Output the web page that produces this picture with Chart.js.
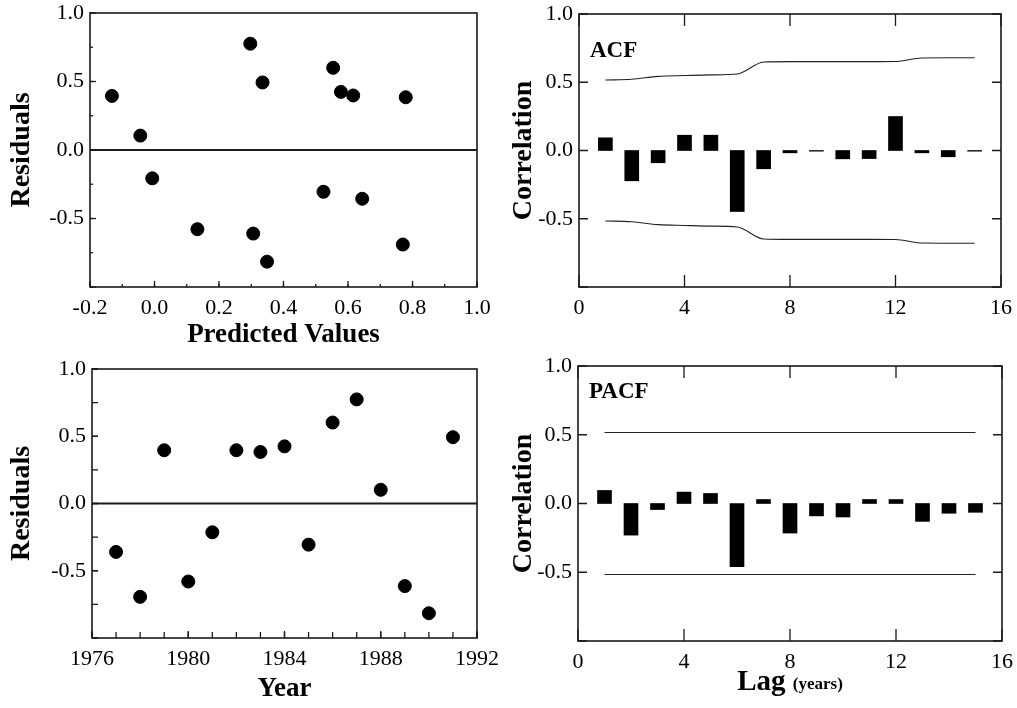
<!DOCTYPE html>
<html>
<head>
<meta charset="utf-8">
<script src="https://cdn.jsdelivr.net/npm/chart.js@4.4.1/dist/chart.umd.min.js"></script>
<style>
  html, body { margin: 0; padding: 0; background: #fff; }
  #wrap { position: relative; width: 1017px; height: 708px; }
  #wrap canvas { position: absolute; }
</style>
</head>
<body>
<div id="wrap">
  <canvas id="cTL" style="left:0;top:0"></canvas>
  <canvas id="cTR" style="left:508px;top:0"></canvas>
  <canvas id="cBL" style="left:0;top:354px"></canvas>
  <canvas id="cBR" style="left:508px;top:354px"></canvas>
</div>
<script>
// residuals vs predicted values (top left)
const predicted = [-0.132, -0.044, -0.007, 0.133, 0.297, 0.306, 0.335, 0.349, 0.524, 0.554, 0.578, 0.616, 0.644, 0.770, 0.779];
const residualsByPred = [0.395, 0.105, -0.207, -0.578, 0.776, -0.610, 0.493, -0.815, -0.305, 0.600, 0.424, 0.398, -0.356, -0.690, 0.385];

// residuals vs year (bottom left)
const years = [1977, 1978, 1979, 1980, 1981, 1982, 1983, 1984, 1985, 1986, 1987, 1988, 1989, 1990, 1991];
const residualsByYear = [-0.36, -0.694, 0.396, -0.58, -0.214, 0.396, 0.383, 0.425, -0.306, 0.602, 0.774, 0.102, -0.614, -0.816, 0.493];

// correlograms
const lags = [1, 2, 3, 4, 5, 6, 7, 8, 9, 10, 11, 12, 13, 14, 15];
const acf = [0.093, -0.222, -0.09, 0.112, 0.112, -0.447, -0.134, -0.017, -0.005, -0.061, -0.059, 0.249, -0.017, -0.046, -0.005];
const acfUpper = [0.516, 0.522, 0.543, 0.549, 0.554, 0.560, 0.648, 0.651, 0.651, 0.651, 0.651, 0.652, 0.678, 0.679, 0.679];
const acfLower = [-0.516, -0.522, -0.543, -0.549, -0.554, -0.560, -0.648, -0.651, -0.651, -0.651, -0.651, -0.652, -0.678, -0.679, -0.679];
const pacf = [0.095, -0.23, -0.044, 0.083, 0.073, -0.46, 0.029, -0.215, -0.09, -0.098, 0.029, 0.029, -0.13, -0.071, -0.064];
const pacfUpper = [0.516, 0.516, 0.516, 0.516, 0.516, 0.516, 0.516, 0.516, 0.516, 0.516, 0.516, 0.516, 0.516, 0.516, 0.516];
const pacfLower = [-0.516, -0.516, -0.516, -0.516, -0.516, -0.516, -0.516, -0.516, -0.516, -0.516, -0.516, -0.516, -0.516, -0.516, -0.516];

const SERIF = '"Liberation Serif", "Times New Roman", serif';
const tickFont = { family: SERIF, size: 22, lineHeight: 1 };

function oneDecimal(v) {
    if (Math.abs(v + 1) < 1e-9) return '';
    if (Math.abs(v) < 1e-9) return '0.0';
    return v.toFixed(1);
}

function pairs(xs, ys) {
    return xs.map((x, i) => ({ x, y: ys[i] }));
}

// frame, inward tick marks, zero line and panel labels
const framePlugin = {
    id: 'frame',
    afterDatasetsDraw(chart, args, opts) {
        const ctx = chart.ctx;
        const a = chart.chartArea;
        const xs = chart.scales.x, ys = chart.scales.y;
        ctx.save();
        ctx.strokeStyle = '#1a1a1a';

        if (opts.zeroLine) {
            const y0 = ys.getPixelForValue(0);
            ctx.lineWidth = 1.8;
            ctx.beginPath();
            ctx.moveTo(a.left, y0);
            ctx.lineTo(a.right, y0);
            ctx.stroke();
        }

        ctx.lineWidth = 1.6;
        ctx.strokeRect(a.left, a.top, a.right - a.left, a.bottom - a.top);

        ctx.lineWidth = 1.3;
        const drawX = (vals, len) => {
            vals.forEach(v => {
                const px = xs.getPixelForValue(v);
                ctx.beginPath();
                if (opts.bottom) { ctx.moveTo(px, a.bottom); ctx.lineTo(px, a.bottom - len); }
                if (opts.top) { ctx.moveTo(px, a.top); ctx.lineTo(px, a.top + len); }
                ctx.stroke();
            });
        };
        const drawY = (vals, len) => {
            vals.forEach(v => {
                const py = ys.getPixelForValue(v);
                ctx.beginPath();
                if (opts.left) { ctx.moveTo(a.left, py); ctx.lineTo(a.left + len, py); }
                if (opts.right) { ctx.moveTo(a.right, py); ctx.lineTo(a.right - len, py); }
                ctx.stroke();
            });
        };
        const steps = (min, max, step) => {
            const out = [];
            for (let v = min; v <= max + 1e-9; v += step) out.push(v);
            return out;
        };
        drawX(xs.ticks.map(t => t.value), opts.xMajor);
        drawY(ys.ticks.map(t => t.value), opts.yMajor);
        if (opts.xMinor) drawX(steps(xs.min, xs.max, opts.xMinor), opts.minorLen);
        if (opts.yMinor) drawY(steps(ys.min, ys.max, opts.yMinor), opts.minorLen);

        ctx.fillStyle = '#000';
        if (opts.label) {
            ctx.font = 'bold 23px ' + SERIF;
            ctx.textAlign = 'left';
            ctx.textBaseline = 'alphabetic';
            ctx.fillText(opts.label, a.left + 11, a.top + opts.labelDrop);
        }
        if (opts.lagTitle) {
            const big = 'bold 29px ' + SERIF, small = 'bold 17px ' + SERIF;
            ctx.font = big;
            const w1 = ctx.measureText('Lag ').width;
            ctx.font = small;
            const w2 = ctx.measureText('(years)').width;
            let x = (a.left + a.right) / 2 - (w1 + w2) / 2;
            const base = chart.height - 18;
            ctx.textAlign = 'left';
            ctx.textBaseline = 'alphabetic';
            ctx.font = big;
            ctx.fillText('Lag', x, base);
            ctx.font = small;
            ctx.fillText('(years)', x + w1, base - 1);
        }
        ctx.restore();
    }
};

function axisY(width, title, titlePad) {
    return {
        type: 'linear', min: -1, max: 1,
        grid: { display: false, drawTicks: false },
        border: { display: false },
        ticks: { stepSize: 0.5, font: tickFont, color: '#000', padding: 6, callback: oneDecimal },
        title: { display: true, text: title, color: '#000', font: { family: SERIF, size: 28, weight: 'bold', lineHeight: 1.1 }, padding: { top: titlePad, bottom: 0 } },
        afterFit(s) { s.width = width; s.paddingTop = 0; s.paddingBottom = 0; }
    };
}

function axisX(min, max, step, height, title, fmt) {
    return {
        type: 'linear', min, max, offset: false,
        grid: { display: false, drawTicks: false, offset: false },
        border: { display: false },
        ticks: { stepSize: step, font: tickFont, color: '#000', padding: 10, callback: fmt, maxRotation: 0, autoSkip: false },
        title: { display: !!title, text: title || '', color: '#000', font: { family: SERIF, size: 27, weight: 'bold', lineHeight: 1.2 }, padding: { top: 0, bottom: 3 } },
        afterFit(s) { s.height = height; s.paddingLeft = 0; s.paddingRight = 0; }
    };
}

function baseOptions(padding, scales, frame) {
    return {
        responsive: false,
        animation: false,
        layout: { padding },
        plugins: { legend: { display: false }, tooltip: { enabled: false }, frame },
        scales
    };
}

function scatterChart(id, xs, ys, xAxis, yAxis, padding, frame) {
    const el = document.getElementById(id);
    el.width = 508; el.height = 354;
    return new Chart(el, {
        type: 'scatter',
        data: { datasets: [{ data: pairs(xs, ys), backgroundColor: '#000', borderColor: '#000', pointRadius: 6.5, pointHoverRadius: 6.5 }] },
        options: baseOptions(padding, { x: xAxis, y: yAxis }, frame),
        plugins: [framePlugin]
    });
}

function corrChart(id, values, upper, lower, padding, frame, yWidth) {
    const el = document.getElementById(id);
    el.width = 509; el.height = 354;
    const band = data => ({
        type: 'line', data: pairs(lags, data), borderColor: '#222', borderWidth: 1.1,
        pointRadius: 0, fill: false, cubicInterpolationMode: 'monotone'
    });
    return new Chart(el, {
        type: 'bar',
        data: {
            datasets: [
                { type: 'bar', data: pairs(lags, values), backgroundColor: '#000', barThickness: 14 },
                band(upper),
                band(lower)
            ]
        },
        options: baseOptions(padding, {
            x: axisX(0, 16, 4, 67, '', v => String(v)),
            y: axisY(yWidth, 'Correlation', 0)
        }, frame),
        plugins: [framePlugin]
    });
}

scatterChart('cTL', predicted, residualsByPred,
    axisX(-0.2, 1.0, 0.2, 67, 'Predicted Values', oneDecimal),
    axisY(90, 'Residuals', 6),
    { top: 13, right: 31, left: 0, bottom: 0 },
    { left: true, bottom: true, xMajor: 6, yMajor: 6, minorLen: 3, xMinor: 0.1, yMinor: 0.25, zeroLine: true });

scatterChart('cBL', years, residualsByYear,
    axisX(1976, 1992, 4, 70, 'Year', v => String(v)),
    axisY(92, 'Residuals', 6),
    { top: 15, right: 31, left: 0, bottom: 0 },
    { left: true, bottom: true, xMajor: 7, yMajor: 6, minorLen: 6, xMinor: 1, yMinor: 0.25, zeroLine: true });

corrChart('cTR', acf, acfUpper, acfLower,
    { top: 14, right: 16, left: 0, bottom: 0 },
    { left: true, right: true, top: true, bottom: true, xMajor: 12, yMajor: 9, label: 'ACF', labelDrop: 43 }, 71);

corrChart('cBR', pacf, pacfUpper, pacfLower,
    { top: 12, right: 15, left: 0, bottom: 0 },
    { left: true, right: true, top: true, bottom: true, xMajor: 12, yMajor: 9, label: 'PACF', labelDrop: 32, lagTitle: true }, 70);
</script>
</body>
</html>
